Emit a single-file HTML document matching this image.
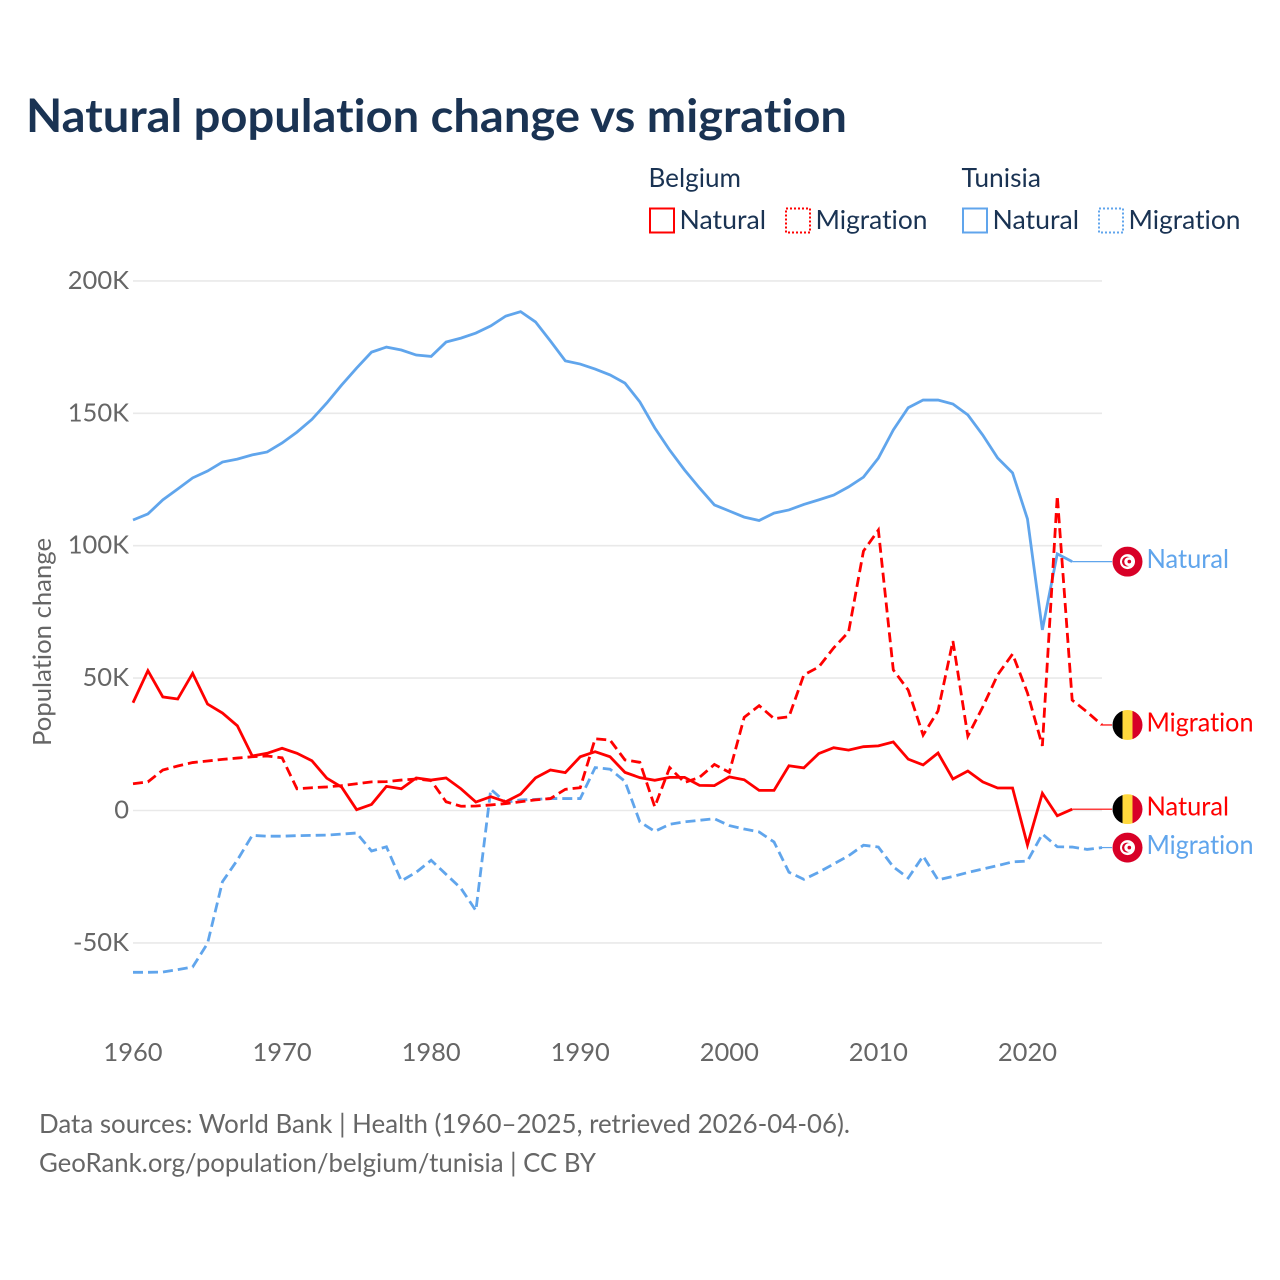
<!DOCTYPE html>
<html lang="en">
<head>
<meta charset="utf-8">
<title>Natural population change vs migration</title>
<style>
html,body{margin:0;padding:0;background:#fff;}
svg{display:block;font-family:"Lato","Carlito","Liberation Sans",sans-serif;font-variant-ligatures:none;}
</style>
</head>
<body>
<svg id="chart" xmlns="http://www.w3.org/2000/svg" width="1280" height="1280" viewBox="0 0 1280 1280">
  <defs>
    <clipPath id="flag-clip"><circle cx="0" cy="0" r="15"></circle></clipPath>
  </defs>
  <rect x="0" y="0" width="1280" height="1280" fill="#ffffff"></rect>
  <text x="26" y="132" font-size="46" font-weight="700" fill="#1a3353" textLength="821" lengthAdjust="spacingAndGlyphs">Natural population change vs migration</text>

  <g font-size="26" fill="#1a3353">
    <text x="648.5" y="187" textLength="92.5" lengthAdjust="spacingAndGlyphs">Belgium</text>
    <text x="961.5" y="187" textLength="79.5" lengthAdjust="spacingAndGlyphs">Tunisia</text>
    <rect x="650" y="208.5" width="24" height="24" fill="none" stroke="#ff0000" stroke-width="2"></rect>
    <text x="679.5" y="229" textLength="86.5" lengthAdjust="spacingAndGlyphs">Natural</text>
    <rect x="786" y="208.5" width="24" height="24" fill="none" stroke="#ff0000" stroke-width="2" stroke-dasharray="2 2"></rect>
    <text x="815.5" y="229" textLength="112" lengthAdjust="spacingAndGlyphs">Migration</text>
    <rect x="963" y="208.5" width="24" height="24" fill="none" stroke="#60a5ec" stroke-width="2"></rect>
    <text x="992.5" y="229" textLength="86.5" lengthAdjust="spacingAndGlyphs">Natural</text>
    <rect x="1099" y="208.5" width="24" height="24" fill="none" stroke="#60a5ec" stroke-width="2" stroke-dasharray="2 2"></rect>
    <text x="1128.5" y="229" textLength="112" lengthAdjust="spacingAndGlyphs">Migration</text>
  </g>

  <g id="grid"></g>
  <g id="yticks"></g>
  <g id="xticks"></g>
  <text transform="translate(51,642) rotate(-90)" text-anchor="middle" font-size="25.5" fill="#666666" textLength="208" lengthAdjust="spacingAndGlyphs">Population change</text>
  <g id="series"></g>
  <g id="ends"></g>

  <text x="39" y="1133" font-size="26" fill="#666666" textLength="811" lengthAdjust="spacingAndGlyphs">Data sources: World Bank | Health (1960–2025, retrieved 2026-04-06).</text>
  <text x="39" y="1172" font-size="26" fill="#666666" textLength="557" lengthAdjust="spacingAndGlyphs">GeoRank.org/population/belgium/tunisia | CC BY</text>
</svg>
<script>
const startYear = 1960;
const endYear = 2025;
const yTicks = [200, 150, 100, 50, 0, -50];
const xTicks = [1960, 1970, 1980, 1990, 2000, 2010, 2020];

const tunisiaNatural = [
  109.7,112.0,117.3,121.4,125.6,128.2,131.6,132.7,134.3,135.4,
  138.8,142.9,147.7,153.9,160.7,167.1,173.1,175.0,173.9,172.0,
  171.5,176.9,178.4,180.3,183.0,186.7,188.4,184.5,177.3,169.8,
  168.6,166.7,164.5,161.4,154.3,144.5,136.1,128.6,121.8,115.4,
  113.1,110.8,109.5,112.3,113.5,115.6,117.3,119.1,122.2,125.9,
  133.1,143.7,152.1,155.0,155.0,153.5,149.4,141.8,133.1,127.5,
  110.1,68.2,96.9,94.0
];
const tunisiaMigration = [
  -61.1,-61.1,-61.0,-60.1,-59.1,-50.2,-26.9,-18.7,-9.4,-9.7,
  -9.7,-9.5,-9.4,-9.3,-8.9,-8.5,-15.3,-13.7,-26.6,-23.3,
  -18.8,-24.1,-29.4,-37.8,8.0,3.1,4.0,4.2,4.5,4.5,
  4.5,16.2,15.6,11.0,-4.3,-7.9,-5.2,-4.3,-3.7,-3.1,
  -5.7,-7.0,-8.1,-11.9,-23.3,-26.0,-23.3,-20.2,-17.1,-13.1,
  -13.8,-21.3,-25.5,-17.2,-26.2,-24.9,-23.4,-22.1,-20.8,-19.4,
  -19.1,-8.9,-13.7,-13.8,-14.7,-14.0
];
const belgiumNatural = [
  40.7,52.8,42.9,42.1,51.8,40.2,36.8,32.0,20.6,21.6,
  23.5,21.6,18.8,12.2,8.8,0.3,2.3,9.1,8.2,12.3,
  11.5,12.3,8.2,3.2,5.2,3.3,6.2,12.3,15.3,14.3,
  20.3,22.2,20.3,14.4,12.4,11.4,12.5,12.5,9.5,9.4,
  12.7,11.6,7.6,7.6,16.9,16.1,21.5,23.7,22.8,24.1,
  24.4,25.9,19.4,17.2,21.7,11.9,14.9,10.8,8.5,8.5,
  -13.0,6.5,-2.0,0.5
];
const belgiumMigration = [
  10.1,10.8,15.3,16.8,18.1,18.7,19.3,19.8,20.3,20.6,
  19.9,8.2,8.6,8.9,9.4,10.1,10.8,10.9,11.5,11.9,
  11.3,3.3,1.6,1.7,2.1,2.6,3.3,4.0,4.5,8.0,
  8.6,27.1,26.6,19.1,18.2,1.4,16.2,10.6,12.5,17.4,
  14.4,35.2,39.6,34.7,35.4,51.2,54.2,61.4,67.4,98.0,
  105.9,53.1,45.5,28.5,37.6,64.0,28.1,39.1,51.2,59.1,
  44.4,24.4,118.9,41.7,37.2,32.3
];

const NS = 'http://www.w3.org/2000/svg';
const RED = '#ff0000';
const BLUE = '#60a5ec';
function xScale(year) { return 133 + (year - startYear) * (1102 - 133) / (endYear - startYear); }
function yScale(v) { return 810.5 - v * 2.648; }
function tickLabel(v) { return v === 0 ? '0' : v + 'K'; }
function make(tag, parent, attrs) {
  const el = document.createElementNS(NS, tag);
  for (const k in attrs) el.setAttribute(k, attrs[k]);
  parent.appendChild(el);
  return el;
}

const gridG = document.getElementById('grid');
const yG = document.getElementById('yticks');
const xG = document.getElementById('xticks');
const seriesG = document.getElementById('series');
const endsG = document.getElementById('ends');

yTicks.forEach(function (v) {
  const line = make('line', gridG, { x1: 133, x2: 1102, y1: yScale(v), y2: yScale(v), stroke: '#e9e9e9', 'stroke-width': 1.6 });
  
  
  const t = make('text', yG, { x: 129, y: yScale(v) + 8, 'text-anchor': 'end', 'font-size': 25.5, fill: '#666666' });
  
  
  t.textContent = tickLabel(v);
});

xTicks.forEach(function (yr) {
  const t = make('text', xG, { x: xScale(yr), y: 1061, 'text-anchor': 'middle', 'font-size': 25.5, fill: '#666666' });
  
  
  t.textContent = yr;
});

function drawLine(values, color, dashed, name) {
  const d = values.map(function (v, i) { return (i ? 'L' : 'M') + xScale(startYear + i).toFixed(2) + ' ' + yScale(v).toFixed(2); }).join(' ');
  const p = make('path', seriesG, { d: d, fill: 'none', stroke: color, 'stroke-width': 2.8, 'stroke-linejoin': 'miter' });
  if (dashed) p.setAttribute('stroke-dasharray', '10 5');
  
  
}
drawLine(tunisiaNatural, BLUE, false, 'line-tunisia-natural');
drawLine(tunisiaMigration, BLUE, true, 'line-tunisia-migration');
drawLine(belgiumMigration, RED, true, 'line-belgium-migration');
drawLine(belgiumNatural, RED, false, 'line-belgium-natural');

function drawFlag(country, cy) {
  const g = make('g', endsG, { transform: 'translate(1127.5,' + cy + ')', 'clip-path': 'url(#flag-clip)' });
  
  
  if (country === 'belgium') {
    make('rect', g, { x: -15, y: -15, width: 10, height: 30, fill: '#000000' });
    make('rect', g, { x: -5, y: -15, width: 10, height: 30, fill: '#ffd83d' });
    make('rect', g, { x: 5, y: -15, width: 10, height: 30, fill: '#d80027' });
  } else {
    make('rect', g, { x: -15, y: -15, width: 30, height: 30, fill: '#d80027' });
    make('circle', g, { cx: 0, cy: 0, r: 7.5, fill: '#ffffff' });
    make('circle', g, { cx: -0.5, cy: 0, r: 5, fill: '#d80027' });
    make('circle', g, { cx: 1.2, cy: 0, r: 4.4, fill: '#ffffff' });
    make('circle', g, { cx: 1.8, cy: 0, r: 1.8, fill: '#d80027' });
  }
}

function drawEnd(values, color, country, label, name) {
  const lastV = values[values.length - 1];
  const lastX = xScale(startYear + values.length - 1);
  const cy = yScale(lastV);
  const lead = make('line', endsG, { x1: lastX, x2: 1112, y1: cy, y2: cy, stroke: color, 'stroke-width': 1.2 });
  
  
  drawFlag(country, cy);
  const t = make('text', endsG, { x: 1146.5, y: cy + 6.5, 'font-size': 26, fill: color, textLength: label === 'Natural' ? 82.5 : 107, lengthAdjust: 'spacingAndGlyphs' });
  
  
  t.textContent = label;
}
drawEnd(tunisiaNatural, BLUE, 'tunisia', 'Natural', 'tunisia-natural');
drawEnd(belgiumMigration, RED, 'belgium', 'Migration', 'belgium-migration');
drawEnd(belgiumNatural, RED, 'belgium', 'Natural', 'belgium-natural');
drawEnd(tunisiaMigration, BLUE, 'tunisia', 'Migration', 'tunisia-migration');
</script>
</body>
</html>
